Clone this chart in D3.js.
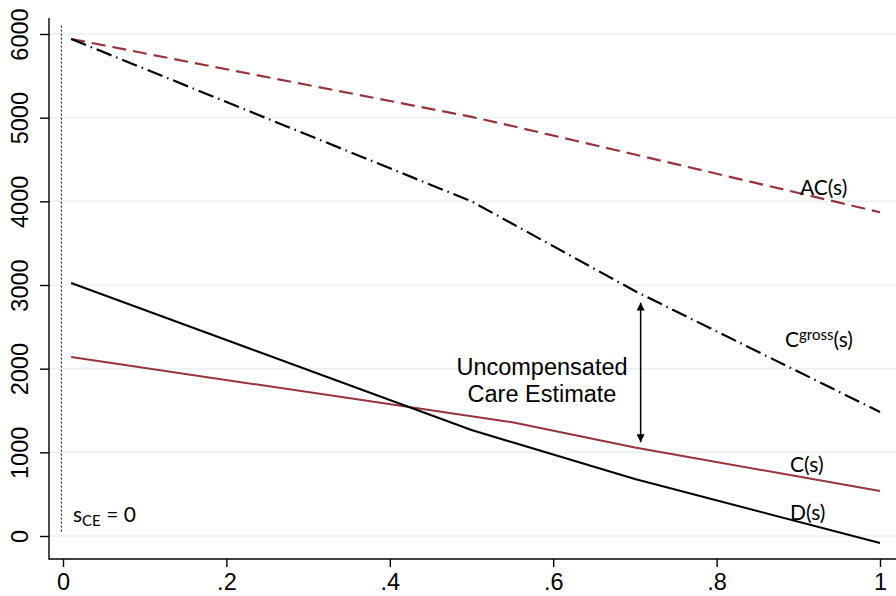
<!DOCTYPE html>
<html>
<head>
<meta charset="utf-8">
<script src="https://cdn.jsdelivr.net/npm/d3@7"></script>
<style>
  html, body { margin: 0; padding: 0; background: #fff; }
  svg { display: block; }
</style>
</head>
<body>
<svg id="chart" width="896" height="596"></svg>
<script>
// Share of uninsured patients s, and the cost curves evaluated at each s
const sValues      = [0.01, 0.5, 0.55, 0.7, 1];
const acValues     = [5940, 5010, 4900, 4560, 3870];   // AC(s)
const cGrossValues = [5940, 4000, 3732, 2928, 1482];   // C^gross(s)
const cValues      = [2139, 1431, 1359, 1058, 538];    // C(s)
const dValues      = [3024, 1267, 1120, 681, -84];     // D(s)

const xTicks = [0, 0.2, 0.4, 0.6, 0.8, 1];
const xTickLabels = ["0", ".2", ".4", ".6", ".8", "1"];
const yTicks = [0, 1000, 2000, 3000, 4000, 5000, 6000];

// Uncompensated care bracket, between C^gross and C at s ≈ .707
const arrowS = 0.707, arrowTop = 2790, arrowBottom = 1120;

const svg = d3.select("#chart");
const x = d3.scaleLinear().domain([0, 1]).range([63, 880]);
const y = d3.scaleLinear().domain([0, 6000]).range([536, 34]);

const axisLeftX = 49, axisBottomY = 559, plotTop = 18, plotRight = 896;
const red = "#97333a";
const tickFont = "'Liberation Sans', Arial, sans-serif";
const labelFont = "Lato, 'Open Sans', sans-serif";

// grid lines
svg.append("g").selectAll("line").data(yTicks).join("line")
  .attr("x1", axisLeftX).attr("x2", plotRight)
  .attr("y1", d => y(d)).attr("y2", d => y(d))
  .attr("stroke", "#e8f0f2").attr("stroke-width", 1.6);

// y axis
const yAxis = d3.axisLeft(y).tickValues(yTicks).tickSize(9).tickPadding(0).tickFormat(d3.format("d"));
const gy = svg.append("g").attr("transform", `translate(${axisLeftX},0)`).call(yAxis);
gy.select(".domain").remove();
gy.selectAll(".tick line").attr("stroke", "#000").attr("stroke-width", 1.4);
gy.selectAll(".tick text")
  .attr("font-family", tickFont).attr("font-size", 23.5).attr("fill", "#000")
  .attr("text-anchor", "middle")
  .attr("transform", "translate(-21,0) rotate(-90)")
  .attr("x", 0).attr("dy", 0).attr("y", 0);
svg.append("line").attr("x1", axisLeftX).attr("x2", axisLeftX)
  .attr("y1", plotTop).attr("y2", axisBottomY + 0.7)
  .attr("stroke", "#000").attr("stroke-width", 1.4);

// x axis
const xAxis = d3.axisBottom(x).tickValues(xTicks).tickSize(8).tickPadding(6)
  .tickFormat((d, i) => xTickLabels[i]);
const gx = svg.append("g").attr("transform", `translate(0,${axisBottomY})`).call(xAxis);
gx.select(".domain").remove();
gx.selectAll(".tick line").attr("stroke", "#000").attr("stroke-width", 1.4);
gx.selectAll(".tick text").attr("font-family", tickFont).attr("font-size", 23.5).attr("fill", "#000");
svg.append("line").attr("x1", axisLeftX).attr("x2", plotRight)
  .attr("y1", axisBottomY).attr("y2", axisBottomY)
  .attr("stroke", "#000").attr("stroke-width", 1.4);

// reference line at s_CE = 0
svg.append("line")
  .attr("x1", x(-0.002)).attr("x2", x(-0.002))
  .attr("y1", y(6100)).attr("y2", y(30))
  .attr("stroke", "#000").attr("stroke-width", 1).attr("stroke-dasharray", "2,2");

// curves
const line = d3.line().x(d => x(d[0])).y(d => y(d[1]));
const series = [
  { vals: acValues,     color: red,    width: 2.2, dash: "14,7" },
  { vals: cGrossValues, color: "#000", width: 2.2, dash: "16,5,1.5,5" },
  { vals: cValues,      color: red,    width: 2,   dash: null },
  { vals: dValues,      color: "#000", width: 2,   dash: null }
];
svg.append("g").selectAll("path").data(series).join("path")
  .attr("d", d => line(sValues.map((s, i) => [s, d.vals[i]])))
  .attr("fill", "none")
  .attr("stroke", d => d.color)
  .attr("stroke-width", d => d.width)
  .attr("stroke-dasharray", d => d.dash)
  .attr("stroke-linejoin", "round");

// double-headed arrow
const defs = svg.append("defs");
defs.append("marker").attr("id", "head")
  .attr("viewBox", "0 0 10 10").attr("refX", 10).attr("refY", 5)
  .attr("markerWidth", 8).attr("markerHeight", 8).attr("markerUnits", "userSpaceOnUse")
  .attr("orient", "auto-start-reverse")
  .append("path").attr("d", "M0,0 L10,5 L0,10 Z").attr("fill", "#000");
svg.append("line")
  .attr("x1", x(arrowS)).attr("x2", x(arrowS))
  .attr("y1", y(arrowTop)).attr("y2", y(arrowBottom))
  .attr("stroke", "#000").attr("stroke-width", 1.5)
  .attr("marker-start", "url(#head)").attr("marker-end", "url(#head)");

// annotation text
const note = svg.append("text").attr("font-family", tickFont).attr("font-size", 23.5)
  .attr("text-anchor", "middle").attr("fill", "#000");
note.append("tspan").attr("x", 542).attr("y", 375).text("Uncompensated");
note.append("tspan").attr("x", 542).attr("y", 402).text("Care Estimate");

// curve labels
function label(px, py, parts) {
  const t = svg.append("text").attr("x", px).attr("y", py)
    .attr("font-family", labelFont).attr("font-size", 21).attr("fill", "#000");
  parts.forEach(p => {
    const ts = t.append("tspan").text(p.text);
    if (p.size) ts.attr("font-size", p.size);
    if (p.dy) ts.attr("dy", p.dy);
  });
}
label(800, 195, [{ text: "AC(s)" }]);
label(785, 347, [{ text: "C" }, { text: "gross", size: 15, dy: -7 }, { text: "(s)", dy: 7 }]);
label(790, 472, [{ text: "C(s)" }]);
label(790, 520, [{ text: "D(s)" }]);
label(73, 522, [{ text: "s" }, { text: "CE", size: 15, dy: 4 }, { text: " = 0", dy: -4 }]);
</script>
</body>
</html>
